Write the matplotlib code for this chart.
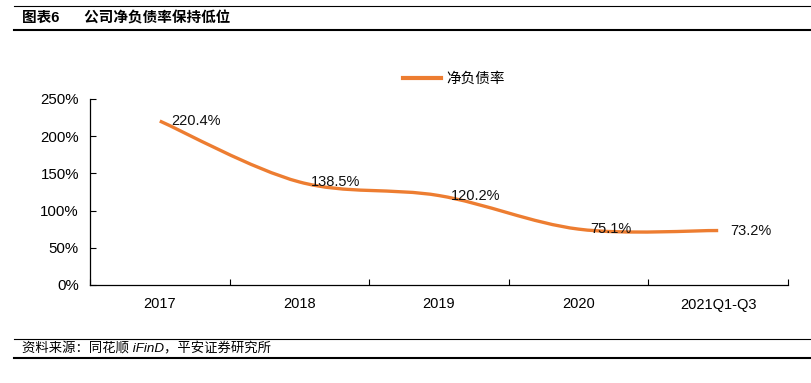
import matplotlib.pyplot as plt
from matplotlib.path import Path
from matplotlib.patches import PathPatch
from matplotlib.lines import Line2D

plt.rcParams['font.family'] = ['Liberation Sans', 'Noto Sans CJK SC', 'DejaVu Sans']

categories = ['2017', '2018', '2019', '2020', '2021Q1-Q3']
net_debt_ratio = [220.4, 138.5, 120.2, 75.1, 73.2]
y_ticks = [0, 50, 100, 150, 200, 250]
series_name = '净负债率'
title = '图表6      公司净负债率保持低位'
source = '资料来源：同花顺 iFinD，平安证券研究所'

ORANGE = '#ED7D31'


def smooth_path(xs, ys):
    """Catmull-Rom style bezier through the points (like Excel's smoothed line)."""
    pts = list(zip(xs, ys))
    verts = [pts[0]]
    codes = [Path.MOVETO]
    n = len(pts)
    for i in range(n - 1):
        p0 = pts[i - 1] if i > 0 else pts[i]
        p1 = pts[i]
        p2 = pts[i + 1]
        p3 = pts[i + 2] if i + 2 < n else pts[i + 1]
        c1 = (p1[0] + (p2[0] - p0[0]) / 6, p1[1] + (p2[1] - p0[1]) / 6)
        c2 = (p2[0] - (p3[0] - p1[0]) / 6, p2[1] - (p3[1] - p1[1]) / 6)
        verts += [c1, c2, p2]
        codes += [Path.CURVE4] * 3
    return Path(verts, codes)


fig = plt.figure(figsize=(8.12, 3.83), dpi=100)
ax = fig.add_axes([90 / 812, 1 - 285 / 383, (788 - 90) / 812, (285 - 99) / 383])

x = list(range(len(categories)))
ax.add_patch(PathPatch(smooth_path(x, net_debt_ratio), facecolor='none',
                       edgecolor=ORANGE, linewidth=2.4, capstyle='butt'))

for xi, v in zip(x, net_debt_ratio):
    ax.annotate(f'{v:.1f}%', (xi, v), xytext=(8.5, 0), textcoords='offset points',
                ha='left', va='center', fontsize=10.5, color='#111111')

ax.set_xlim(-0.5, len(categories) - 0.5)
ax.set_ylim(0, 250)
ax.set_yticks(y_ticks)
ax.set_yticklabels([f'{t}%' for t in y_ticks], fontsize=10.8)

ax.set_xticks([i - 0.5 for i in range(len(categories) + 1)])
ax.set_xticklabels([])
ax.set_xticks(x, minor=True)
ax.set_xticklabels(categories, minor=True, fontsize=10.5)
ax.tick_params(axis='x', which='minor', length=0, pad=9)
ax.tick_params(axis='x', which='major', direction='in', length=4, width=0.8)
ax.tick_params(axis='y', direction='in', length=4, width=0.8, pad=8)

for side in ['top', 'right']:
    ax.spines[side].set_visible(False)
for side in ['left', 'bottom']:
    ax.spines[side].set_linewidth(0.9)

handle = Line2D([], [], color=ORANGE, linewidth=3)
ax.legend([handle], [series_name], loc='center', bbox_to_anchor=(454 / 812, 1 - 79 / 383),
          bbox_transform=fig.transFigure, frameon=False, fontsize=10.5,
          handlelength=2.6, handletextpad=0.4)

# header and footer rules
fig.add_artist(Line2D([14 / 812, 1], [1 - 6 / 383] * 2, color='black', linewidth=0.8))
fig.add_artist(Line2D([14 / 812, 1], [1 - 30 / 383] * 2, color='black', linewidth=1.5))
fig.text(22 / 812, 1 - 18 / 383, title, fontsize=10.5, fontweight='bold', va='center', ha='left')

fig.add_artist(Line2D([14 / 812, 1], [1 - 339 / 383] * 2, color='black', linewidth=0.8))
fig.add_artist(Line2D([14 / 812, 1], [1 - 358 / 383] * 2, color='black', linewidth=1.5))
fig.text(22 / 812, 1 - 349 / 383, source, fontsize=9.6, style='italic', va='center', ha='left')

fig.savefig('out.png', dpi=100)
